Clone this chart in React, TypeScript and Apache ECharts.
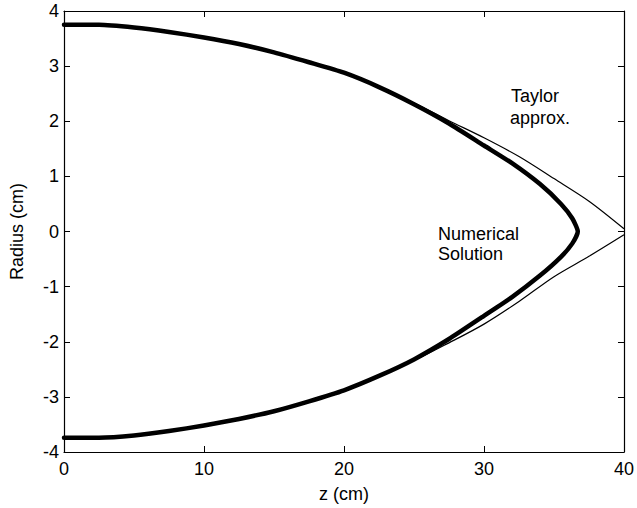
import React, { useEffect, useRef } from "react";
import * as echarts from "echarts";

// Numerical solution (thick curve): z positions and radii, upper then lower branch
const numZ = [0, 2.5, 5, 7.5, 10, 12.5, 15, 17.5, 20, 22.5, 25, 27.5, 30, 32, 34, 35.5, 36.3, 36.7];
const numUpper = [3.75, 3.75, 3.7, 3.62, 3.52, 3.4, 3.25, 3.07, 2.88, 2.62, 2.31, 1.96, 1.56, 1.24, 0.86, 0.5, 0.24, 0.0];
const numLower = [-3.74, -3.74, -3.7, -3.62, -3.52, -3.4, -3.26, -3.08, -2.88, -2.62, -2.32, -1.95, -1.53, -1.19, -0.8, -0.46, -0.22, 0.0];

// Taylor approximation (thin curve)
const taylorZ = [0, 5, 10, 15, 20, 25, 27.5, 30, 32.5, 35, 37.5, 40];
const taylorUpper = [3.75, 3.7, 3.52, 3.25, 2.88, 2.33, 2.01, 1.7, 1.36, 0.96, 0.55, 0.05];
const taylorLower = [-3.74, -3.7, -3.52, -3.26, -2.88, -2.34, -2.02, -1.68, -1.27, -0.82, -0.45, -0.06];

const xTicks = { min: 0, max: 40, interval: 10 };
const yTicks = { min: -4, max: 4, interval: 1 };

const FONT = "'Liberation Sans', Arial, sans-serif";
const FS = 18;

export default function App() {
  const ref = useRef<HTMLDivElement>(null);
  useEffect(() => {
    if (!ref.current) return;
    const chart = echarts.init(ref.current, undefined, { renderer: "svg" });

    const numerical: number[][] = [];
    numZ.forEach((z, i) => numerical.push([z, numUpper[i]]));
    for (let i = numZ.length - 2; i >= 0; i--) numerical.push([numZ[i], numLower[i]]);
    const tUp = taylorZ.map((z, i) => [z, taylorUpper[i]]);
    const tLo = taylorZ.map((z, i) => [z, taylorLower[i]]);

    const axisCommon = {
      type: "value" as const,
      splitLine: { show: false },
      axisLine: { show: true, onZero: false, lineStyle: { color: "#000", width: 1.2 } },
      axisTick: { show: true, inside: true, length: 6, lineStyle: { color: "#000", width: 1 } },
    };

    chart.setOption({
      animation: false,
      backgroundColor: "#fff",
      textStyle: { fontFamily: FONT },
      grid: { left: 63, right: 11, top: 11, bottom: 55, containLabel: false },
      xAxis: [
        {
          ...axisCommon,
          ...xTicks,
          position: "bottom",
          axisLabel: { color: "#000", fontSize: FS, fontFamily: FONT, margin: 8 },
          name: "z (cm)",
          nameLocation: "middle",
          nameGap: 33,
          nameTextStyle: { color: "#000", fontSize: FS, fontFamily: FONT },
        },
        {
          ...axisCommon,
          ...xTicks,
          position: "top",
          axisLabel: { show: false },
        },
      ],
      yAxis: [
        {
          ...axisCommon,
          ...yTicks,
          position: "left",
          axisLabel: { color: "#000", fontSize: FS, fontFamily: FONT, margin: 5 },
          name: "Radius (cm)",
          nameLocation: "middle",
          nameGap: 38,
          nameTextStyle: { color: "#000", fontSize: FS, fontFamily: FONT },
        },
        {
          ...axisCommon,
          ...yTicks,
          position: "right",
          axisLabel: { show: false },
        },
      ],
      graphic: [
        { type: "text", left: 511, top: 87, style: { text: "Taylor", font: `${FS}px ${FONT}`, fill: "#000" } },
        { type: "text", left: 510, top: 109, style: { text: "approx.", font: `${FS}px ${FONT}`, fill: "#000" } },
        { type: "text", left: 438, top: 225, style: { text: "Numerical", font: `${FS}px ${FONT}`, fill: "#000" } },
        { type: "text", left: 438, top: 245, style: { text: "Solution", font: `${FS}px ${FONT}`, fill: "#000" } },
      ],
      series: [
        {
          name: "Taylor upper",
          type: "line",
          data: tUp,
          showSymbol: false,
          smooth: 0.3,
          lineStyle: { color: "#000", width: 1.2 },
          z: 2,
        },
        {
          name: "Taylor lower",
          type: "line",
          data: tLo,
          showSymbol: false,
          smooth: 0.3,
          lineStyle: { color: "#000", width: 1.2 },
          z: 2,
        },
        {
          name: "Numerical",
          type: "line",
          data: numerical,
          showSymbol: false,
          smooth: 0.2,
          lineStyle: { color: "#000", width: 4.5, join: "round", cap: "round" },
          z: 3,
        },
      ],
    });
    return () => chart.dispose();
  }, []);

  return (
    <div
      ref={ref}
      style={{ position: "fixed", left: 0, top: 0, width: 637, height: 508, background: "#fff" }}
    />
  );
}
